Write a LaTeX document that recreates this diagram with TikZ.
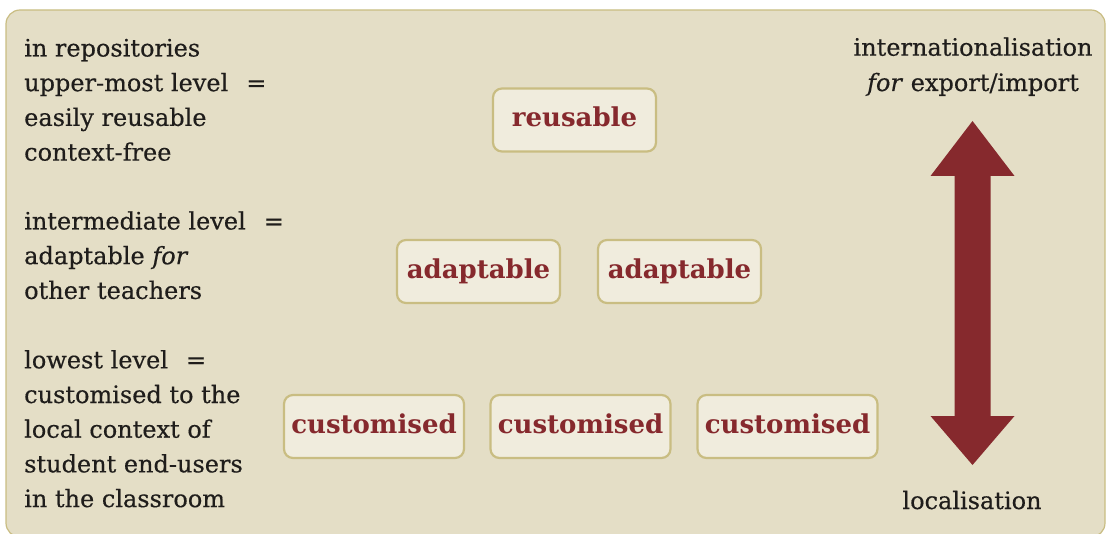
\documentclass[tikz,border=0pt]{standalone}
\usepackage{fontspec}
\setmainfont{DejaVu Serif}
\newfontfamily\bodyfont{DejaVu Serif}[FakeBold=0.4, ItalicFeatures={FakeBold=0.4}]
\definecolor{bg}{HTML}{E4DEC6}
\definecolor{frame}{HTML}{C9BD82}
\definecolor{boxfill}{HTML}{F0ECDD}
\definecolor{wine}{HTML}{86292D}
\definecolor{ink}{HTML}{1F1D1B}
\tikzset{
  lvl/.style={anchor=base west, inner sep=0pt, text=ink, font=\bodyfont\fontsize{24}{30}\selectfont},
  side/.style={anchor=base, inner sep=0pt, text=ink, font=\bodyfont\fontsize{24}{30}\selectfont},
  stage/.style={draw=frame, line width=2.2pt, fill=boxfill, rounded corners=9pt,
    minimum width=163pt, minimum height=63pt, inner xsep=6pt, text=wine,
    font=\fontsize{26}{30}\selectfont\bfseries, text height=17pt, text depth=3.5pt},
  widestage/.style={stage, minimum width=180pt},
}
\begin{document}
\begin{tikzpicture}[x=1pt,y=-1pt]
\useasboundingbox (0,0) rectangle (1107,534);
\draw[frame, line width=1.2pt, fill=bg, rounded corners=14pt] (6,10) rectangle (1105,537);

% left descriptions
\node[lvl] (t1) at (24,56.5) {in repositories};
\node[lvl] (t2) at (24,91.2) {upper-most level\hspace{0.75em}=};
\node[lvl] (t3) at (24,125.9) {easily reusable};
\node[lvl] (t4) at (24,160.6) {context-free};

\node[lvl] (m1) at (24,229.5) {intermediate level\hspace{0.75em}=};
\node[lvl] (m2) at (24,264.2) {adaptable \textit{for}};
\node[lvl] (m3) at (24,298.9) {other teachers};

\node[lvl] (b1) at (24,368.3) {lowest level\hspace{0.75em}=};
\node[lvl] (b2) at (24,403) {customised to the};
\node[lvl] (b3) at (24,437.7) {local context of};
\node[lvl] (b4) at (24,472.4) {student end-users};
\node[lvl] (b5) at (24,507.1) {in the classroom};

% boxes
\node[stage] (reuse) at (574.5,120) {reusable};
\node[stage] (adaptA) at (478.5,271.5) {adaptable};
\node[stage] (adaptB) at (679.5,271.5) {adaptable};
\node[widestage] (custA) at (374,426.5) {customised};
\node[widestage] (custB) at (580.5,426.5) {customised};
\node[widestage] (custC) at (787.5,426.5) {customised};

% right labels
\node[side] (intl) at (973,55.7) {internationalisation};
\node[side] (expimp) at (973,91) {\textit{for} export/import};
\node[side] (local) at (972,509) {localisation};

% double arrow
\fill[wine] (972.5,121) -- (1014.5,176) -- (990.5,176) -- (990.5,416) -- (1014.5,416)
  -- (972.5,465) -- (930.5,416) -- (954.5,416) -- (954.5,176) -- (930.5,176) -- cycle;
\end{tikzpicture}
\end{document}
